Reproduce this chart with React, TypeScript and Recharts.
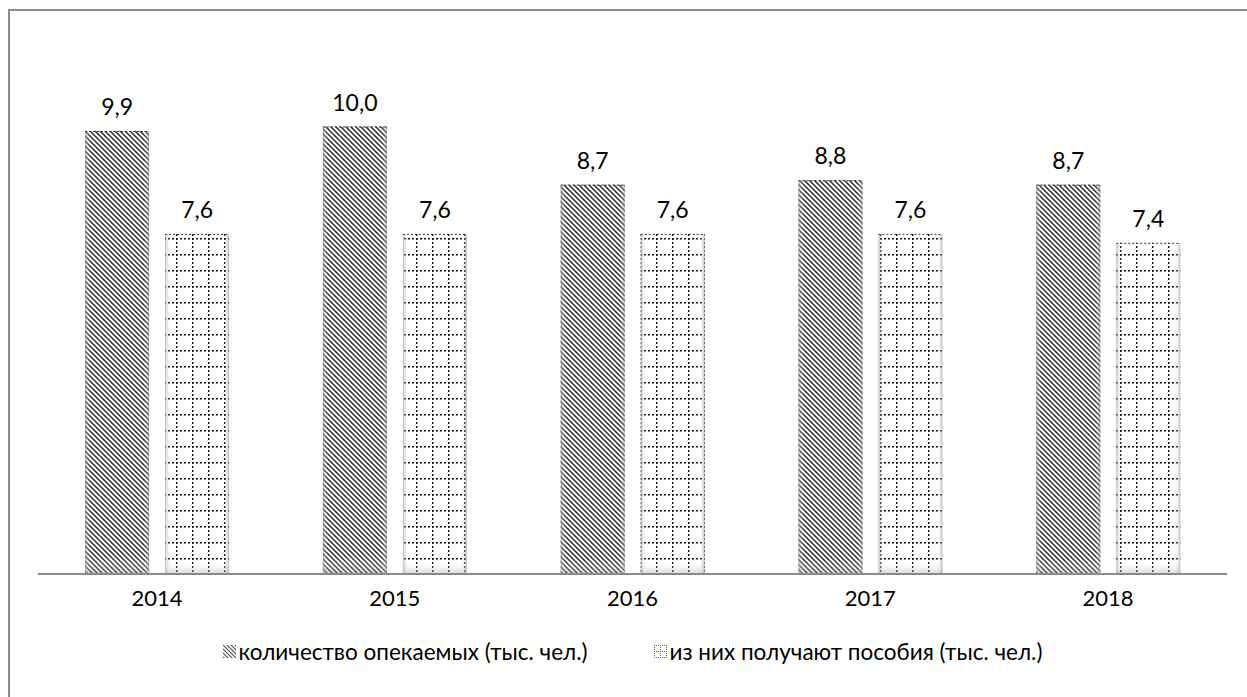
import React from 'react';
import { BarChart, Bar, XAxis, YAxis, Legend, LabelList } from 'recharts';

const years = ['2014', '2015', '2016', '2017', '2018'];
const wards = [9.9, 10.0, 8.7, 8.8, 8.7];
const benefits = [7.6, 7.6, 7.6, 7.6, 7.4];
const seriesNames = ['количество опекаемых (тыс. чел.)', 'из них получают пособия (тыс. чел.)'];

const data = years.map((y, i) => ({ year: y, wards: wards[i], benefits: benefits[i] }));

const FONT = 'Lato, "Open Sans", sans-serif';
const fmt = (v: any) => Number(v).toFixed(1).replace('.', ',');

const PatternBar = (props: any) => {
  const { x, y, width, height, fillId } = props;
  if (!height || height <= 0) return null;
  return (
    <g>
      <rect x={x} y={y} width={width} height={height} fill={`url(#${fillId})`} />
      <rect x={x} y={y} width={width} height={height} fill="url(#edgeShade)" />
      <rect x={x} y={y} width={width} height={height} fill="url(#bottomShade)" />
      <line x1={x} y1={y + 0.5} x2={x + width} y2={y + 0.5} stroke="#333" strokeDasharray="2 2" />
    </g>
  );
};

const LegendContent = () => (
  <div style={{ display: 'flex', justifyContent: 'center', gap: 66, fontFamily: FONT, fontSize: 22.5, color: '#000' }}>
    {['diag', 'grid'].map((id, i) => (
      <div key={id} style={{ display: 'flex', alignItems: 'center' }}>
        <svg width={13} height={13} style={{ marginRight: 3 }}>
          <rect x={0} y={0} width={13} height={13} fill={`url(#${id}Small)`} />
        </svg>
        <span>{seriesNames[i]}</span>
      </div>
    ))}
  </div>
);

export default function App() {
  return (
    <div style={{ position: 'fixed', left: 8, top: 9, width: 1237, height: 686, borderTop: '2px solid #8a8a8a', borderLeft: '2px solid #8a8a8a', background: '#fff' }}>
      <BarChart
        width={1237}
        height={687}
        data={data}
        margin={{ top: 26, right: 20, left: 28, bottom: 10 }}
        barCategoryGap="19.8%"
        barGap={16}
      >
        <defs>
          <pattern id="diag" patternUnits="userSpaceOnUse" width={5} height={5}>
            <rect width={5} height={5} fill="#fff" />
            <path d="M0,0 L5,5 M-1,4 L1,6 M4,-1 L6,1" stroke="#2a2a2a" strokeWidth={1.5} />
          </pattern>
          <pattern id="grid" patternUnits="userSpaceOnUse" width={16} height={16} x={6} y={3}>
            <rect width={16} height={16} fill="#fff" />
            <line x1={0} y1={0.5} x2={16} y2={0.5} stroke="#111" strokeWidth={1.8} strokeDasharray="2 2" />
            <line x1={0.5} y1={0} x2={0.5} y2={16} stroke="#111" strokeWidth={1.8} strokeDasharray="2 2" />
          </pattern>
          <pattern id="diagSmall" patternUnits="userSpaceOnUse" width={4} height={4}>
            <rect width={4} height={4} fill="#fff" />
            <path d="M0,0 L4,4 M-1,3 L1,5 M3,-1 L5,1" stroke="#555" strokeWidth={1.2} />
          </pattern>
          <pattern id="gridSmall" patternUnits="userSpaceOnUse" width={6} height={6}>
            <rect width={6} height={6} fill="#fff" />
            <line x1={0} y1={0.5} x2={6} y2={0.5} stroke="#666" strokeWidth={1} strokeDasharray="1 1" />
            <line x1={0.5} y1={0} x2={0.5} y2={6} stroke="#666" strokeWidth={1} strokeDasharray="1 1" />
          </pattern>
          <linearGradient id="edgeShade" x1="0" y1="0" x2="1" y2="0">
            <stop offset="0%" stopColor="#888" stopOpacity={0.6} />
            <stop offset="8%" stopColor="#fff" stopOpacity={0} />
            <stop offset="92%" stopColor="#fff" stopOpacity={0} />
            <stop offset="100%" stopColor="#888" stopOpacity={0.6} />
          </linearGradient>
          <linearGradient id="bottomShade" x1="0" y1="0" x2="0" y2="1">
            <stop offset="96%" stopColor="#fff" stopOpacity={0} />
            <stop offset="100%" stopColor="#999" stopOpacity={0.4} />
          </linearGradient>
        </defs>
        <XAxis
          dataKey="year"
          height={64}
          axisLine={{ stroke: '#8a8a8a', strokeWidth: 2 }}
          tickLine={false}
          tick={{ fill: '#000', fontSize: 22, fontFamily: FONT }}
          tickMargin={10}
        />
        <YAxis hide domain={[0, 12]} />
        <Legend verticalAlign="bottom" height={50} content={<LegendContent />} />
        <Bar dataKey="wards" name={seriesNames[0]} isAnimationActive={false} shape={(p: any) => <PatternBar {...p} fillId="diag" />}>
          <LabelList dataKey="wards" position="top" offset={16} formatter={fmt} style={{ fill: '#000', fontSize: 23, fontFamily: FONT }} />
        </Bar>
        <Bar dataKey="benefits" name={seriesNames[1]} isAnimationActive={false} shape={(p: any) => <PatternBar {...p} fillId="grid" />}>
          <LabelList dataKey="benefits" position="top" offset={16} formatter={fmt} style={{ fill: '#000', fontSize: 23, fontFamily: FONT }} />
        </Bar>
      </BarChart>
    </div>
  );
}
